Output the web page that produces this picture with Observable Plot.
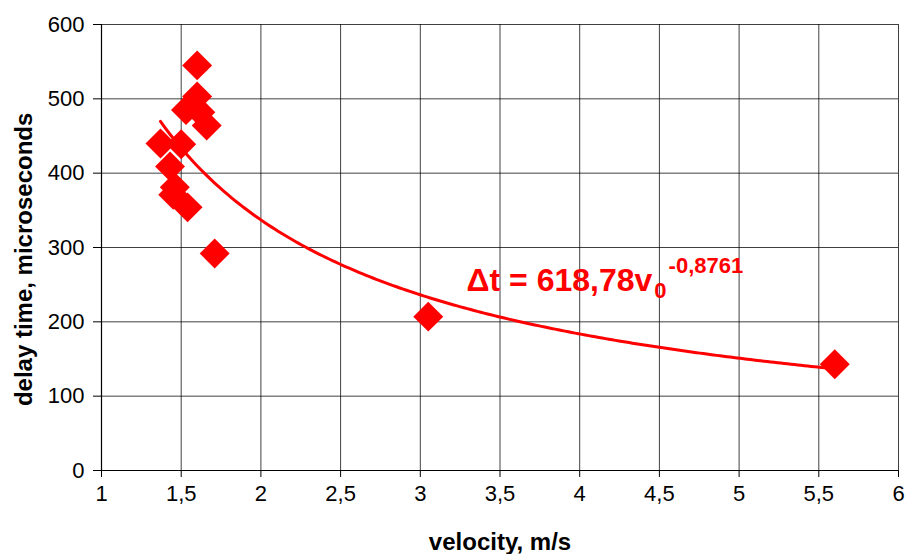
<!DOCTYPE html>
<html>
<head>
<meta charset="utf-8">
<script src="https://cdn.jsdelivr.net/npm/d3@7"></script>
<script src="https://cdn.jsdelivr.net/npm/@observablehq/plot@0.6"></script>
<style>
  html, body { margin: 0; padding: 0; background: #fff; }
  #chart svg { font-family: "Liberation Sans", Arial, sans-serif; }
  #chart svg g[aria-label$="tick label"] { font-size: 22px; }
</style>
</head>
<body>
<div id="chart"></div>
<script>
const velocity = [1.60, 1.60, 1.53, 1.62, 1.66, 1.37, 1.50, 1.43, 1.46, 1.45, 1.54, 1.71, 3.05, 5.60];
const delay    = [545, 503, 485, 482, 464, 440, 439, 409, 381, 371, 354, 292, 207, 143];
const xTicks = [1, 1.5, 2, 2.5, 3, 3.5, 4, 4.5, 5, 5.5, 6];
const yTicks = [0, 100, 200, 300, 400, 500, 600];
const fitA = 618.78;
const fitB = -0.8761;
const fitRange = [1.37, 5.60];
const eqMain = "\u0394t = 618,78v";
const eqSub = "0";
const eqSup = "-0,8761";

const points = velocity.map((v, i) => ({v, d: delay[i]}));
const fitXs = d3.range(fitRange[0], fitRange[1] + 1e-9, (fitRange[1] - fitRange[0]) / 200);
const fit = fitXs.map(v => ({v, d: fitA * Math.pow(v, fitB)}));
const fmt = d => String(d).replace(".", ",");

const plot = Plot.plot({
  width: 906,
  height: 554,
  marginLeft: 101,
  marginRight: 8,
  marginTop: 24,
  marginBottom: 84,
  style: {fontFamily: "Liberation Sans, Arial, sans-serif", fontSize: "21px", color: "#000", background: "#fff"},
  x: {domain: [1, 6], ticks: xTicks, tickFormat: fmt, label: null},
  y: {domain: [0, 600], ticks: yTicks, label: null},
  marks: [
    Plot.gridX(xTicks, {stroke: "#000", strokeOpacity: 0.75, strokeWidth: 1}),
    Plot.gridY(yTicks, {stroke: "#000", strokeOpacity: 0.75, strokeWidth: 1}),
    Plot.axisX({ticks: xTicks, tickFormat: fmt, tickSize: 7, tickPadding: 8, label: null}),
    Plot.axisY({ticks: yTicks, tickSize: 8, tickPadding: 9, label: null}),
    Plot.ruleX([1], {stroke: "#000", strokeWidth: 1.2}),
    Plot.ruleY([0], {stroke: "#000", strokeWidth: 1.2}),
    Plot.line(fit, {x: "v", y: "d", stroke: "#ff0000", strokeWidth: 3}),
    Plot.dot(points, {x: "v", y: "d", symbol: "diamond2", r: 13.5, fill: "#ff0000", stroke: "none"}),
    Plot.text([{v: 3.29, d: 242}], {x: "v", y: "d", text: () => eqMain, textAnchor: "start", lineAnchor: "bottom", fill: "#ff0000", fontSize: 32, fontWeight: "bold", className: "eq"}),
    Plot.text([{v: 3.5, d: 0}], {x: "v", y: "d", text: () => "velocity, m/s", dy: 79, fontSize: 24, fontWeight: "bold", lineAnchor: "bottom", fill: "#000"}),
    Plot.text([{v: 1, d: 284}], {x: "v", y: "d", text: () => "delay time, microseconds", dx: -77, rotate: -90, fontSize: 24, fontWeight: "bold", fill: "#000"})
  ]
});

const eqText = plot.querySelector(".eq text");
if (eqText) {
  const ns = "http://www.w3.org/2000/svg";
  const sub = document.createElementNS(ns, "tspan");
  sub.setAttribute("font-size", "22");
  sub.setAttribute("dy", "7");
  sub.setAttribute("dx", "2");
  sub.textContent = eqSub;
  const sup = document.createElementNS(ns, "tspan");
  sup.setAttribute("font-size", "22");
  sup.setAttribute("dy", "-25");
  sup.setAttribute("dx", "2");
  sup.textContent = eqSup;
  eqText.appendChild(sub);
  eqText.appendChild(sup);
}
document.getElementById("chart").appendChild(plot);
</script>
</body>
</html>
